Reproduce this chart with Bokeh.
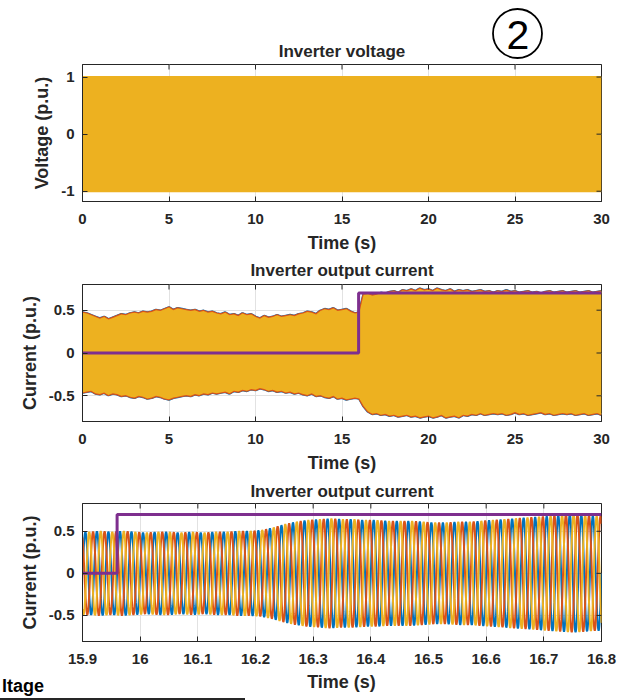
import numpy as np
from bokeh.plotting import figure
from bokeh.layouts import column
from bokeh.models import Range1d, FixedTicker, Div
from bokeh.core.properties import value
from bokeh.embed import file_html
from bokeh.resources import INLINE

# ---------------- data ----------------
full_time_ticks = [0, 5, 10, 15, 20, 25, 30]
full_time_labels = ["0", "5", "10", "15", "20", "25", "30"]
zoom_time_ticks = [15.9, 16.0, 16.1, 16.2, 16.3, 16.4, 16.5, 16.6, 16.7, 16.8]
zoom_time_labels = ["15.9", "16", "16.1", "16.2", "16.3", "16.4", "16.5", "16.6", "16.7", "16.8"]
voltage_ticks = [-1, 0, 1]
voltage_tick_labels = ["-1", "0", "1"]
current_ticks = [-0.5, 0, 0.5]
current_tick_labels = ["-0.5", "0", "0.5"]

title_voltage = "Inverter voltage"
title_current = "Inverter output current"
panel_mark = "2"
xlabel = "Time (s)"
ylabel_voltage = "Voltage (p.u.)"
ylabel_current = "Current (p.u.)"
fragment_text = "ltage"

# panel 1: inverter voltage envelope (p.u.)
voltage_t = [0, 30]
voltage_upper = [1.02, 1.02]
voltage_lower = [-1.02, -1.02]

# panel 2: inverter output current envelope, sampled every 0.25 s from 0 to 30 s
current_env_step = 0.25
current_upper = [
    0.47, 0.46, 0.44, 0.42, 0.40, 0.42, 0.39, 0.41, 0.43, 0.45, 0.44, 0.46, 0.47, 0.46, 0.48, 0.47,
    0.48, 0.50, 0.49, 0.51, 0.53, 0.50, 0.52, 0.51, 0.50, 0.49, 0.50, 0.48, 0.49, 0.47, 0.48, 0.46,
    0.45, 0.47, 0.44, 0.45, 0.43, 0.46, 0.44, 0.45, 0.42, 0.40, 0.43, 0.41, 0.42, 0.44, 0.42, 0.43,
    0.44, 0.43, 0.45, 0.46, 0.48, 0.47, 0.45, 0.49, 0.51, 0.50, 0.52, 0.49, 0.50, 0.51, 0.48, 0.46,
    0.47, 0.68, 0.69, 0.67, 0.68, 0.70, 0.69, 0.71, 0.72, 0.70, 0.73, 0.72, 0.74, 0.72, 0.75, 0.73,
    0.74, 0.72, 0.75, 0.73, 0.72, 0.74, 0.71, 0.73, 0.72, 0.73, 0.71, 0.72, 0.73, 0.71, 0.72, 0.70,
    0.72, 0.71, 0.73, 0.71, 0.72, 0.70, 0.71, 0.72, 0.70, 0.71, 0.69, 0.71, 0.72, 0.70, 0.71, 0.72,
    0.70, 0.71, 0.72, 0.70, 0.71, 0.72, 0.70, 0.71, 0.72,
]
current_lower = [
    -0.46, -0.45, -0.44, -0.47, -0.48, -0.46, -0.49, -0.47, -0.48, -0.50, -0.49, -0.51, -0.52, -0.50, -0.51, -0.53,
    -0.52, -0.50, -0.51, -0.53, -0.54, -0.52, -0.51, -0.50, -0.49, -0.50, -0.48, -0.49, -0.47, -0.48, -0.46, -0.47,
    -0.46, -0.45, -0.47, -0.44, -0.45, -0.43, -0.44, -0.42, -0.43, -0.41, -0.42, -0.44, -0.43, -0.45, -0.44, -0.46,
    -0.45, -0.47, -0.46, -0.48, -0.49, -0.47, -0.50, -0.49, -0.51, -0.52, -0.50, -0.53, -0.52, -0.54, -0.53, -0.52,
    -0.53, -0.62, -0.68, -0.71, -0.70, -0.72, -0.71, -0.73, -0.72, -0.74, -0.73, -0.72, -0.74, -0.73, -0.75, -0.74,
    -0.73, -0.75, -0.74, -0.72, -0.75, -0.74, -0.73, -0.75, -0.72, -0.73, -0.71, -0.72, -0.70, -0.72, -0.71, -0.70,
    -0.71, -0.70, -0.72, -0.71, -0.69, -0.71, -0.70, -0.72, -0.71, -0.70, -0.69, -0.71, -0.70, -0.72, -0.71, -0.70,
    -0.71, -0.70, -0.72, -0.71, -0.70, -0.72, -0.71, -0.70, -0.72,
]

# current reference (purple step)
ref_t = [0, 15.96, 15.96, 30]
ref_val = [0, 0, 0.7, 0.7]
ref_t_zoom = [15.9, 15.96, 15.96, 16.8]
ref_val_zoom = [0, 0, 0.7, 0.7]

# panel 3: zoomed three-phase current, peak amplitude of each 50 Hz cycle (15.9 s .. 16.8 s)
zoom_start = 15.9
grid_freq = 50.0
zoom_cycle_amp = [
    0.49, 0.50, 0.49, 0.50, 0.49, 0.48, 0.49, 0.49, 0.48, 0.49, 0.48, 0.49, 0.49, 0.50, 0.50,
    0.51, 0.54, 0.58, 0.61, 0.63,
    0.64, 0.65, 0.64, 0.64, 0.63, 0.63, 0.62, 0.62, 0.62, 0.61,
    0.60, 0.60, 0.61, 0.61, 0.62, 0.63, 0.64, 0.65,
    0.66, 0.67, 0.68, 0.69, 0.70, 0.69, 0.68,
]
phase_shift_deg = [0, 120, -120]

# ---------------- style ----------------
BLUE = "#0072BD"
ORANGE = "#D95319"
YELLOW = "#EDB120"
PURPLE = "#7E2F8E"
INK = "#262626"
GRID = "#e2e2e2"
FONT = "Liberation Sans"
W = 628
FRAME_L, FRAME_R = 82, 601   # frame edges in page pixels (frames are aligned by the column)


def text_strip(height):
    """Bare figure; its frame is aligned with the panels, x in page pixels, y down."""
    p = figure(width=W, height=height, x_range=Range1d(FRAME_L, FRAME_R),
               y_range=Range1d(height, 0), output_backend="svg", toolbar_location=None,
               min_border=0, x_axis_type=None, y_axis_type=None)
    p.grid.visible = False
    p.outline_line_color = None
    p.background_fill_color = "white"
    p.border_fill_color = "white"
    return p


def make_fig(height, top, bottom, xr, yr):
    p = figure(width=W, height=height, x_range=Range1d(*xr), y_range=Range1d(*yr),
               output_backend="svg", toolbar_location=None,
               min_border_left=FRAME_L, min_border_right=W - FRAME_R,
               min_border_top=top, min_border_bottom=bottom)
    p.outline_line_color = INK
    p.outline_line_width = 1
    p.background_fill_color = "white"
    p.border_fill_color = "white"
    p.grid.grid_line_color = GRID
    p.grid.grid_line_width = 1
    return p


def style_axis(ax, ticks, labels, axis_label=None):
    ax.ticker = FixedTicker(ticks=ticks)
    ax.major_label_overrides = {t: l for t, l in zip(ticks, labels)}
    ax.major_tick_in = 5
    ax.major_tick_out = 0
    ax.minor_tick_line_color = None
    ax.axis_line_color = INK
    ax.major_tick_line_color = INK
    ax.major_label_text_font = FONT
    ax.major_label_text_font_style = "bold"
    ax.major_label_text_color = INK
    ax.major_label_text_font_size = "15px"
    ax.major_label_standoff = 8
    if axis_label:
        ax.axis_label = axis_label
        ax.axis_label_text_font = FONT
        ax.axis_label_text_font_size = "18px"
        ax.axis_label_text_font_style = "bold"
        ax.axis_label_text_color = INK
        ax.axis_label_standoff = 6


def finish_axes(p, xt, xl, yt, yl, xlab, ylab, xr, yr):
    style_axis(p.xaxis[0], xt, xl, xlab)
    style_axis(p.yaxis[0], yt, yl, ylab)
    p.xaxis[0].major_label_standoff = 12
    p.xgrid.ticker = FixedTicker(ticks=xt)
    p.ygrid.ticker = FixedTicker(ticks=yt)
    # inward ticks on the top and right edges of the box
    p.scatter(x=xt, y=[yr[1]] * len(xt), marker="dash", angle=np.pi / 2, size=10,
              line_color=INK, line_width=1)
    p.scatter(x=[xr[1]] * len(yt), y=yt, marker="dash", size=10, line_color=INK, line_width=1)


def add_title(strip, text, y):
    strip.text(x=[(FRAME_L + FRAME_R) / 2], y=[y], text=[text], text_align="center",
               text_baseline="middle", text_font=value(FONT), text_font_size=value("17px"),
               text_font_style="bold", text_color=INK)


# ---------------- header strip (circled mark + first title) ----------------
head = text_strip(62)
head.scatter(x=[517], y=[33], marker="circle", size=49, fill_color=None,
             line_color="black", line_width=1.8)
head.text(x=[517.5], y=[34], text=[panel_mark], text_align="center", text_baseline="middle",
          text_font=value(FONT), text_font_size=value("41px"), text_color="black")
add_title(head, title_voltage, 51)

# ---------------- panel 1 ----------------
xr1, yr1 = (0, 30), (-1.18, 1.22)
p1 = make_fig(193, 2, 54, xr1, yr1)
p1.varea(x=voltage_t, y1=voltage_lower, y2=voltage_upper, fill_color=YELLOW)
finish_axes(p1, full_time_ticks, full_time_labels, voltage_ticks, voltage_tick_labels,
            xlabel, ylabel_voltage, xr1, yr1)

# ---------------- panel 2 ----------------
cur_t = np.arange(len(current_upper)) * current_env_step
xr2, yr2 = (0, 30), (-0.8, 0.8)
t2 = text_strip(25)
add_title(t2, title_current, 15)
p2 = make_fig(199, 4, 58, xr2, yr2)
p2.line(cur_t, current_upper, color=BLUE, line_width=3)
p2.line(cur_t, current_lower, color=BLUE, line_width=3)
p2.line(cur_t, current_upper, color=ORANGE, line_width=2.4)
p2.line(cur_t, current_lower, color=ORANGE, line_width=2.4)
p2.varea(x=cur_t, y1=current_lower, y2=current_upper, fill_color=YELLOW)
p2.line(ref_t, ref_val, color=PURPLE, line_width=3)
finish_axes(p2, full_time_ticks, full_time_labels, current_ticks, current_tick_labels,
            xlabel, ylabel_current, xr2, yr2)

# ---------------- panel 3 ----------------
n_cycles = len(zoom_cycle_amp)
pts_per_cycle = 48
tz = zoom_start + np.arange(n_cycles * pts_per_cycle + 1) / (pts_per_cycle * grid_freq)
cycle_centres = zoom_start + (np.arange(n_cycles) + 0.5) / grid_freq
amp = np.interp(tz, cycle_centres, zoom_cycle_amp)

xr3, yr3 = (15.9, 16.8), (-0.81, 0.83)
t3 = text_strip(23)
add_title(t3, title_current, 12)
p3 = make_fig(169, 1, 30, xr3, yr3)
for col, sh in zip([BLUE, ORANGE, YELLOW], phase_shift_deg):
    yz = amp * np.sin(2 * np.pi * grid_freq * (tz - zoom_start) + np.deg2rad(sh))
    p3.line(tz, yz, color=col, line_width=2)
p3.line(ref_t_zoom, ref_val_zoom, color=PURPLE, line_width=3)
finish_axes(p3, zoom_time_ticks, zoom_time_labels, current_ticks, current_tick_labels,
            None, ylabel_current, xr3, yr3)

# ---------------- footer: x label + cropped fragment of a neighbouring figure ----------------
centre = (FRAME_L + FRAME_R) / 2
foot_html = (
    f'<div style="position:relative;width:{W}px;height:29px;overflow:hidden;'
    f'font-family:\'{FONT}\';font-weight:bold;font-size:18px;line-height:18px;">'
    f'<span style="position:absolute;left:{centre}px;top:2px;transform:translateX(-50%);'
    f'color:{INK};white-space:nowrap;">{xlabel}</span>'
    f'<span style="position:absolute;left:2px;top:6px;color:#000;">{fragment_text}</span>'
    f'<div style="position:absolute;left:0px;top:27px;width:245px;height:2px;'
    f'background:{INK};"></div></div>'
)
foot = Div(text=foot_html, width=W, height=29, margin=0)

layout = column(head, p1, t2, p2, t3, p3, foot, spacing=0)
open("out.html", "w").write(file_html(layout, INLINE))
